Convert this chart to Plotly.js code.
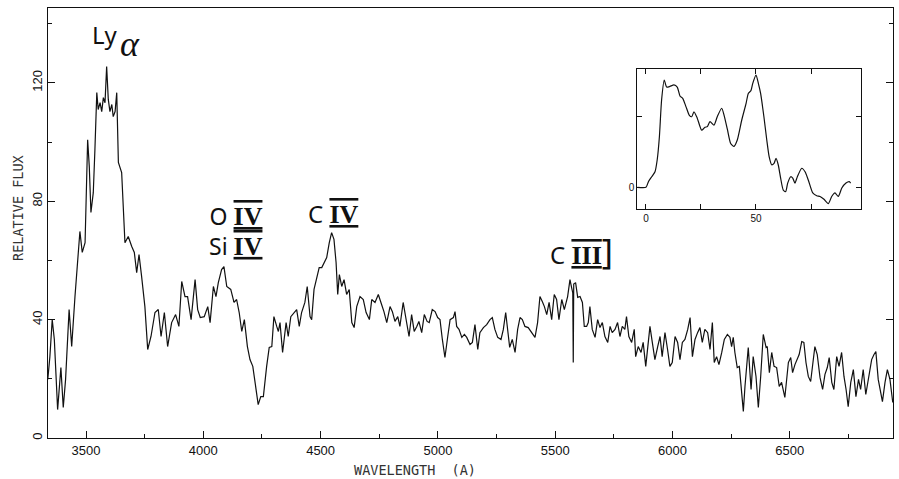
<!DOCTYPE html>
<html>
<head>
<meta charset="utf-8">
<script src="https://cdn.plot.ly/plotly-3.0.1.min.js"></script>
<style>html,body{margin:0;padding:0;background:#fff;}#chart{width:899px;height:479px;}</style>
</head>
<body>
<div id="chart"></div>
<script>
// Main spectrum: wavelength (Angstrom) and relative flux
var wavelength = [
3337,3346,3356,3365,3379,3389,3393,3403,3413,3428,
3439,3453,3467,3474,3484,3496,3507,3514,3521,3531,
3538,3546,3552,3560,3567,3574,3581,3588,3595,3602,
3610,3616,3624,3631,3638,3652,3666,3680,3695,3706,
3716,3726,3737,3751,3763,3777,3794,3808,3820,3834,
3848,3865,3882,3896,3908,3922,3933,3948,3965,3976,
3987,4004,4019,4029,4043,4054,4064,4078,4088,4100,
4117,4131,4142,4153,4164,4175,4188,4199,4211,4220,
4234,4245,4256,4270,4281,4292,4301,4313,4320,4327,
4338,4353,4362,4373,4387,4398,4409,4419,4433,4443,
4455,4462,4472,4483,4494,4505,4514,4526,4537,4547,
4557,4566,4573,4580,4590,4600,4611,4622,4633,4643,
4654,4668,4682,4694,4708,4718,4732,4746,4760,4770,
4782,4789,4796,4806,4817,4829,4838,4852,4863,4877,
4888,4899,4910,4919,4931,4942,4954,4963,4976,4988,
4999,5009,5019,5030,5042,5052,5066,5073,5080,5090,
5102,5113,5123,5137,5147,5158,5170,5179,5194,5208,
5222,5232,5243,5255,5269,5279,5289,5298,5306,5317,
5329,5340,5350,5360,5371,5385,5400,5414,5425,5435,
5445,5454,5464,5474,5485,5496,5506,5516,5528,5539,
5553,5563,5570,5575,5577,5579,5587,5596,5606,5616,
5624,5634,5641,5648,5658,5670,5681,5691,5701,5712,
5724,5734,5743,5755,5766,5776,5786,5797,5804,5814,
5826,5837,5843,5854,5866,5875,5886,5897,5904,5914,
5925,5937,5947,5956,5968,5979,5989,5999,6011,6022,
6032,6042,6053,6065,6075,6085,6096,6107,6117,6127,
6138,6150,6160,6170,6178,6188,6198,6210,6221,6234,
6245,6252,6259,6266,6276,6285,6295,6302,6309,6323,
6335,6344,6356,6366,6376,6387,6399,6404,6413,6423,
6433,6444,6455,6465,6479,6494,6504,6512,6522,6532,
6540,6551,6560,6569,6579,6589,6598,6607,6617,6629,
6640,6650,6660,6668,6679,6688,6700,6710,6721,6731,
6740,6749,6760,6771,6782,6793,6802,6813,6824,6839,
6849,6859,6867,6877,6887,6895,6906,6916,6927,6939
];
var flux = [
19.8,27.5,40.0,33.3,9.6,22.1,23.8,10.3,19.8,43.4,
30.9,47.8,62.7,69.8,62.7,66.0,100.8,91.7,76.2,82.9,
97.5,116.7,111.0,113.3,110.3,115.0,113.3,125.5,114.4,110.3,
112.7,108.6,110.3,116.7,93.1,89.7,66.0,68.1,64.7,62.7,
55.9,62.0,54.6,44.4,29.9,34.3,42.4,43.4,34.3,42.4,
30.9,39.0,41.7,37.7,52.9,47.8,47.8,40.0,53.5,43.4,
40.7,41.0,44.4,39.0,51.2,47.8,52.5,56.9,57.9,51.2,
50.2,45.8,46.8,42.4,36.0,40.0,30.9,26.5,24.2,18.8,
11.3,14.0,14.0,24.2,30.6,30.9,41.0,37.7,36.0,39.0,
28.9,39.0,34.3,41.0,42.4,43.4,37.7,42.4,45.8,51.2,
41.0,40.0,50.2,53.5,57.6,57.6,59.3,61.0,66.0,69.4,
67.1,59.3,48.5,55.2,51.2,53.5,48.5,50.2,39.0,37.3,
44.4,47.8,46.8,42.4,40.0,46.8,45.8,48.5,45.1,42.7,
39.0,42.4,44.4,42.7,39.4,41.0,37.7,45.8,40.7,34.3,
41.7,36.0,37.7,39.4,35.6,41.7,39.4,39.0,43.4,42.7,
40.7,40.0,33.3,27.2,34.3,40.0,40.7,42.7,37.7,36.7,
34.0,35.0,34.0,31.6,32.3,38.3,29.9,35.6,37.3,38.3,
40.0,40.7,36.7,34.0,33.3,36.7,42.4,35.0,30.6,33.3,
28.9,36.7,40.7,40.0,37.7,37.3,35.6,34.0,39.0,47.8,
46.1,44.4,41.7,45.8,40.0,48.5,46.8,40.0,46.8,43.4,
47.8,53.5,50.8,49.0,25.5,52.0,52.5,47.5,47.8,45.8,
37.7,37.7,39.0,44.4,36.7,34.0,40.0,37.3,39.0,34.3,
32.3,37.7,35.6,36.7,39.0,34.3,37.7,36.7,41.0,34.3,
32.3,36.7,27.5,30.9,28.9,32.3,24.2,33.3,37.7,32.3,
26.5,30.9,34.3,27.5,35.6,29.9,24.2,25.5,34.3,32.3,
26.5,32.3,33.3,36.7,40.7,27.5,33.3,35.6,37.3,32.3,
36.7,35.6,29.9,39.0,25.5,27.5,24.8,28.9,33.3,35.0,
34.0,30.9,34.0,28.9,23.8,24.2,15.4,9.0,17.4,30.6,
16.4,27.5,20.8,10.3,20.8,35.0,30.6,30.9,22.1,28.9,
24.2,23.8,17.4,18.8,13.7,25.5,27.2,22.1,24.8,26.5,
28.2,32.6,32.3,25.5,20.8,19.1,24.2,30.9,28.2,20.4,
16.4,21.5,23.8,27.2,18.8,16.4,27.5,24.2,28.9,20.8,
16.4,10.6,18.8,23.1,14.0,19.8,16.4,23.1,14.7,22.1,
26.5,28.2,29.2,19.8,15.4,12.3,18.8,23.1,19.8,12.0
];

// Inset curve
var insetLag = [
-4,0,1.1,2.6,4.1,5.1,6.1,7.1,8.3,9.4,
10.9,12.7,14.2,15.5,16.7,18.2,19.7,20.8,21.8,23.3,
25.3,26.8,27.9,29.1,30.9,32.4,34.4,35.5,37.0,38.5,
40.0,41.5,43.5,45.5,46.5,47.7,48.5,50.0,51.1,52.1,
53.6,54.9,56.0,57.1,58.2,59.1,60.1,61.2,62.4,63.5,
64.4,65.8,66.7,67.7,68.8,70.8,72.3,73.8,75.8,77.6,
79.1,80.9,82.9,84.4,85.9,87.4,89.0,90.9,92.4,93.0
];
var insetValue = [
0,0,0.08,0.15,0.22,0.39,0.72,1.24,1.52,1.42,
1.43,1.45,1.42,1.29,1.26,1.14,1.02,1.00,1.07,0.98,
0.81,0.85,0.86,0.93,0.88,1.00,1.12,1.02,0.82,0.62,
0.58,0.67,0.95,1.19,1.33,1.37,1.47,1.59,1.47,1.33,
1.00,0.67,0.43,0.32,0.34,0.41,0.32,0.13,-0.04,-0.06,
0.06,0.15,0.13,0.06,0.15,0.27,0.22,0.10,-0.08,-0.12,
-0.13,-0.17,-0.23,-0.13,-0.08,-0.13,-0.01,0.06,0.08,0.06
];

var xTitle = 'WAVELENGTH  (A)';
var yTitle = 'RELATIVE FLUX';
function roman(n) {
  return '<span style="font-family:Liberation Serif;font-weight:bold;font-size:26px;text-decoration:overline underline">' + n + '</span>';
}
var lineLabels = [
  {text: 'O ' + roman('IV') + '<br>Si ' + roman('IV'), x: 4139, y: 70.1, align: 'right', size: 23},
  {text: 'C ' + roman('IV'), x: 4553, y: 75.7, align: 'center', size: 24},
  {text: 'C ' + roman('III') + '<span style="font-size:34px">]</span>', x: 5614, y: 63.2, align: 'center', size: 24}
];

var ink = '#111';
var traces = [
  {x: wavelength, y: flux, type: 'scatter', mode: 'lines',
   line: {color: ink, width: 1.2}, hoverinfo: 'skip', xaxis: 'x', yaxis: 'y'},
  {x: insetLag, y: insetValue, type: 'scatter', mode: 'lines',
   line: {color: ink, width: 1.2, shape: 'spline', smoothing: 0.6}, hoverinfo: 'skip', xaxis: 'x2', yaxis: 'y2'}
];

var annotations = [
  {text: 'Ly', x: 3581, y: 136.5, xref: 'x', yref: 'y', showarrow: false,
   font: {family: 'Noto Sans', size: 24, color: ink}},
  {text: '<i>α</i>', x: 3688, y: 133.0, xref: 'x', yref: 'y', showarrow: false,
   font: {family: 'Liberation Serif', size: 36, color: ink}},
  {text: xTitle, x: 0.434, y: -0.074, xref: 'paper', yref: 'paper', showarrow: false,
   xanchor: 'center', yanchor: 'middle', font: {family: 'DejaVu Sans Mono', size: 13.5, color: '#333'}},
  {text: yTitle, x: -0.0355, y: 0.535, xref: 'paper', yref: 'paper', showarrow: false, textangle: -90,
   xanchor: 'center', yanchor: 'middle', font: {family: 'DejaVu Sans Mono', size: 13.5, color: '#333'}}
];
lineLabels.forEach(function (l) {
  annotations.push({text: l.text, x: l.x, y: l.y, xref: 'x', yref: 'y', showarrow: false, align: l.align,
    font: {family: 'Noto Sans', size: l.size, color: ink}});
});

var layout = {
  width: 899, height: 479,
  margin: {l: 48, r: 6, t: 8, b: 41},
  paper_bgcolor: '#fff', plot_bgcolor: '#fff',
  showlegend: false,
  xaxis: {
    range: [3338, 6940], tickmode: 'linear', tick0: 3500, dtick: 500,
    ticks: 'inside', ticklen: 7, tickcolor: ink, tickwidth: 1,
    showline: true, linecolor: ink, linewidth: 1.2, mirror: true,
    showgrid: false, zeroline: false,
    tickfont: {family: 'Liberation Sans', size: 13, color: ink},
    minor: {dtick: 250, ticks: 'inside', ticklen: 4, tickcolor: ink, showgrid: false}
  },
  yaxis: {
    range: [0, 145.3], tickmode: 'linear', tick0: 0, dtick: 40,
    ticks: 'inside', ticklen: 7, tickcolor: ink, tickwidth: 1, tickangle: -90,
    showline: true, linecolor: ink, linewidth: 1.2, mirror: 'ticks',
    showgrid: false, zeroline: false,
    tickfont: {family: 'Liberation Sans', size: 13, color: ink},
    minor: {dtick: 20, ticks: 'inside', ticklen: 4, tickcolor: ink, showgrid: false}
  },
  xaxis2: {
    domain: [0.6974, 0.9618], anchor: 'y2', range: [-3.95, 97.6],
    tickmode: 'array', tickvals: [0, 25, 50, 75], ticktext: ['0', '', '50', ''],
    ticks: 'inside', ticklen: 5, tickcolor: ink,
    showline: true, linecolor: ink, linewidth: 1, mirror: 'ticks',
    showgrid: false, zeroline: false,
    tickfont: {family: 'Liberation Sans', size: 10, color: ink}
  },
  yaxis2: {
    domain: [0.5326, 0.8581], anchor: 'x2', range: [-0.307, 1.676],
    tickmode: 'array', tickvals: [0, 1], ticktext: ['0', ''],
    ticks: 'inside', ticklen: 5, tickcolor: ink,
    showline: true, linecolor: ink, linewidth: 1, mirror: 'ticks',
    showgrid: false, zeroline: false,
    tickfont: {family: 'Liberation Sans', size: 10, color: ink}
  },
  annotations: annotations
};

Plotly.newPlot('chart', traces, layout, {staticPlot: true, displayModeBar: false});
</script>
</body>
</html>
